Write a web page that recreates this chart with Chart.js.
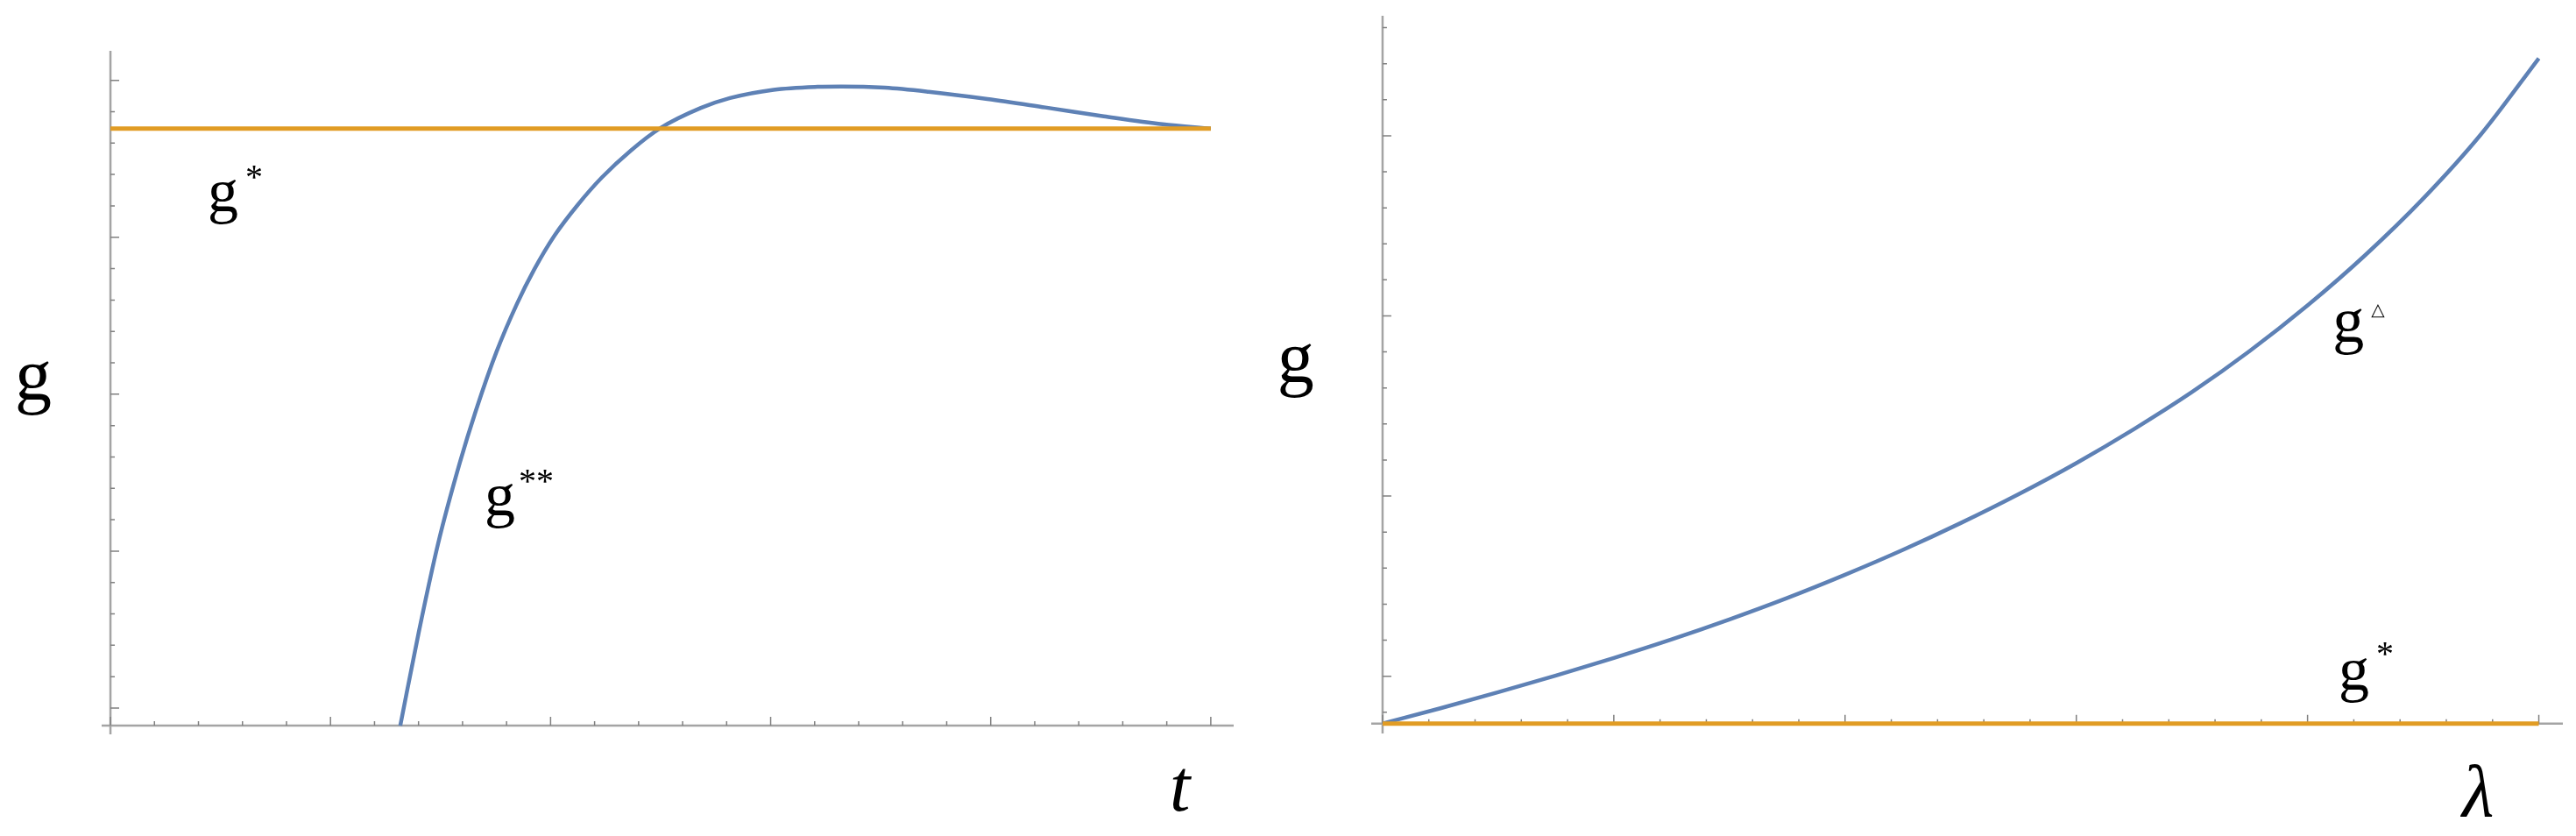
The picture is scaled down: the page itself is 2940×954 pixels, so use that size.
<!DOCTYPE html>
<html>
<head>
<meta charset="utf-8">
<script src="https://cdn.jsdelivr.net/npm/chart.js@4.4.1/dist/chart.umd.min.js"></script>
<style>
  html, body { margin: 0; padding: 0; background: #fff; }
  #wrap { position: relative; width: 2940px; height: 954px; }
  .panel { position: absolute; top: 0; height: 954px; }
</style>
</head>
<body>
<div id="wrap">
  <div class="panel" style="left:0;width:1470px"><canvas id="leftChart" width="1470" height="954"></canvas></div>
  <div class="panel" style="left:1440px;width:1500px"><canvas id="rightChart" width="1500" height="954"></canvas></div>
</div>
<script>
// left panel: g against t
const tValues = [1.317, 1.401, 1.489, 1.588, 1.661, 1.754, 1.847, 1.927, 2.018, 2.126, 2.233, 2.365, 2.496,
                 2.683, 2.815, 3.013, 3.213, 3.320, 3.519, 3.718, 3.985, 4.248, 4.514, 4.781, 5.0];
const gStarStar = [0.888, 1.483, 2.048, 2.565, 2.897, 3.269, 3.575, 3.798, 4.011, 4.211, 4.381, 4.553, 4.693,
                   4.824, 4.887, 4.940, 4.959, 4.961, 4.953, 4.927, 4.881, 4.827, 4.771, 4.720, 4.692];
const gStarLeft = 4.692;

// right panel: g against lambda
const lambdaValues = [0, 0.25, 0.5, 0.75, 1, 1.25, 1.5, 1.75, 2, 2.25, 2.5, 2.75, 3, 3.25, 3.5, 3.75, 4, 4.25, 4.5, 4.75, 5];
const gTriangle = [0.737, 0.822, 0.911, 1.004, 1.101, 1.204, 1.315, 1.434, 1.563, 1.701, 1.850, 2.010, 2.183,
                   2.372, 2.577, 2.805, 3.058, 3.338, 3.651, 4.008, 4.430];
const gStarRight = 0.737;

// ticks (the original has no tick labels)
const xMajorTicks = [0, 1, 2, 3, 4, 5];
const leftYMajorTicks = [1, 2, 3, 4, 5];
const rightYMajorTicks = [1, 2, 3, 4];

const BLUE = '#5e81b5';
const ORANGE = '#e19c24';
const SERIF = '"Liberation Serif", "DejaVu Serif", serif';

// Mathematica style axes crossing at the origin, ticks pointing inward
const mathAxes = {
  id: 'mathAxes',
  beforeDatasetsDraw(chart, args, opts) {
    const { ctx, chartArea } = chart;
    const xs = chart.scales.x, ys = chart.scales.y;
    const ox = xs.getPixelForValue(opts.originX);
    const oy = ys.getPixelForValue(opts.originY);
    ctx.save();
    ctx.strokeStyle = '#a4a4a4';
    ctx.lineWidth = 2.5;
    ctx.beginPath();
    ctx.moveTo(chartArea.left, oy); ctx.lineTo(chartArea.right, oy);
    ctx.moveTo(ox, chartArea.top); ctx.lineTo(ox, chartArea.bottom);
    ctx.stroke();

    ctx.strokeStyle = '#808080';
    ctx.lineWidth = 1.5;
    ctx.beginPath();
    const tick = (v, len, horiz) => {
      if (horiz) {
        const p = xs.getPixelForValue(v);
        ctx.moveTo(p, oy); ctx.lineTo(p, oy - len);
      } else {
        const p = ys.getPixelForValue(v);
        ctx.moveTo(ox, p); ctx.lineTo(ox + len, p);
      }
    };
    opts.xMajor.forEach(v => tick(v, 10, true));
    for (let i = 0; i < opts.xMajor.length - 1; i++) {
      for (let k = 1; k < 5; k++) tick(opts.xMajor[i] + k / 5, 5, true);
    }
    opts.yMajor.forEach(v => tick(v, 10, false));
    // minor y ticks every 0.2 inside the axis range
    for (let k = Math.ceil(ys.min * 5); k <= Math.floor(ys.max * 5); k++) {
      if (k % 5 === 0) continue;
      tick(k / 5, 5, false);
    }
    ctx.stroke();
    ctx.restore();
  },
  afterDatasetsDraw(chart, args, opts) {
    const { ctx } = chart;
    const xs = chart.scales.x, ys = chart.scales.y;
    ctx.save();
    ctx.fillStyle = '#000';
    ctx.textBaseline = 'alphabetic';
    opts.labels.forEach(l => {
      const px = xs.getPixelForValue(l.x), py = ys.getPixelForValue(l.y);
      ctx.font = (l.italic ? 'italic ' : '') + l.size + 'px ' + SERIF;
      ctx.fillText(l.text, px, py);
      if (l.sup) {
        const w = ctx.measureText(l.text).width;
        ctx.font = l.supSize + 'px ' + (l.supFont || SERIF);
        ctx.fillText(l.sup, px + w + l.supDx, py - l.supRise);
      }
    });
    ctx.restore();
  }
};

function lineSet(xs, ys, color, width) {
  return {
    data: xs.map((x, i) => ({ x: x, y: ys[i] })),
    borderColor: color,
    borderWidth: width,
    showLine: true,
    pointRadius: 0,
    fill: false,
    cubicInterpolationMode: 'monotone'
  };
}

function makeChart(id, datasets, range, padding, axes) {
  return new Chart(document.getElementById(id), {
    type: 'scatter',
    data: { datasets: datasets },
    options: {
      responsive: false,
      devicePixelRatio: 1,
      animation: false,
      events: [],
      layout: { padding: padding },
      scales: {
        x: { type: 'linear', display: false, min: range.xMin, max: range.xMax },
        y: { type: 'linear', display: false, min: range.yMin, max: range.yMax }
      },
      plugins: {
        legend: { display: false },
        tooltip: { enabled: false },
        mathAxes: axes
      }
    },
    plugins: [mathAxes]
  });
}

makeChart('leftChart',
  [
    lineSet([0, 5], [gStarLeft, gStarLeft], ORANGE, 5),
    lineSet(tValues, gStarStar, BLUE, 4.5)
  ],
  { xMin: -0.04, xMax: 5.104, yMin: 0.8325, yMax: 5.188 },
  { left: 116, right: 62, top: 58, bottom: 116 },
  {
    originX: 0, originY: 0.888,
    xMajor: xMajorTicks, yMajor: leftYMajorTicks,
    labels: [
      { text: 'g', x: -0.434, y: 2.965, size: 84 },
      { text: 'g', x: 0.442, y: 4.166, size: 70, sup: '*', supSize: 40, supDx: 8, supRise: 26 },
      { text: 'g', x: 1.700, y: 2.228, size: 70, sup: '**', supSize: 40, supDx: 4, supRise: 26 },
      { text: 't', x: 4.813, y: 0.347, size: 84, italic: true }
    ]
  });

makeChart('rightChart',
  [
    lineSet([0, 5], [gStarRight, gStarRight], ORANGE, 5),
    lineSet(lambdaValues, gTriangle, BLUE, 4.5)
  ],
  { xMin: -0.049, xMax: 5.104, yMin: 0.682, yMax: 4.666 },
  { left: 125, right: 15, top: 18, bottom: 117 },
  {
    originX: 0, originY: gStarRight,
    xMajor: xMajorTicks, yMajor: rightYMajorTicks,
    labels: [
      { text: 'g', x: -0.455, y: 2.633, size: 84 },
      { text: 'g', x: 4.108, y: 2.857, size: 72, sup: '\u25B3', supSize: 20, supFont: '"DejaVu Sans", sans-serif', supDx: 8, supRise: 30 },
      { text: 'g', x: 4.134, y: 0.926, size: 70, sup: '*', supSize: 40, supDx: 8, supRise: 28 },
      { text: 'λ', x: 4.668, y: 0.226, size: 84, italic: true }
    ]
  });
</script>
</body>
</html>
